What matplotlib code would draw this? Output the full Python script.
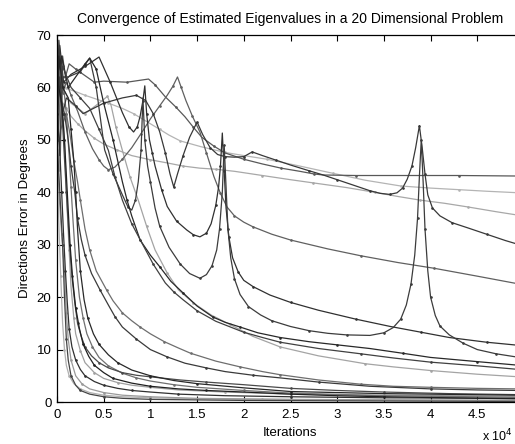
import matplotlib
matplotlib.use("Agg")
import matplotlib.pyplot as plt

plt.rcParams["font.family"] = ["Liberation Sans", "DejaVu Sans"]

# iterations are in units of 1e4 (axis shows "x 10^4")
xticks = [0, 0.5, 1, 1.5, 2, 2.5, 3, 3.5, 4, 4.5]
xtick_labels = ["0", "0.5", "1", "1.5", "2", "2.5", "3", "3.5", "4", "4.5"]
yticks = [0, 10, 20, 30, 40, 50, 60, 70]

# upper curves
h1_x = [0, 0.02, 0.04, 0.06, 0.09, 0.13, 0.2, 0.28, 0.4, 0.5, 0.75, 0.98, 1.05, 1.16, 1.27, 1.37, 1.46, 1.55, 1.68, 1.8,
        2.0, 2.2, 2.4, 2.6, 2.75, 2.85, 3.2, 3.7, 4.3, 4.95]
h1_y = [58, 67, 60, 66, 62, 64.5, 63.5, 62.5, 61, 61.2, 61, 61.6, 60.5, 58.2, 56.3, 54.4, 52.4, 50.5, 48.8, 47.5,
        46.3, 45.4, 44.6, 44, 43.5, 43.3, 43.2, 43.2, 43.2, 43.1]

h2_x = [0, 0.03, 0.06, 0.1, 0.2, 0.28, 0.5, 0.7, 0.85, 0.95, 1.03, 1.1, 1.16, 1.21, 1.25, 1.29, 1.35, 1.42, 1.5, 1.56,
        1.64, 1.72, 1.8, 1.9, 2.0, 2.05, 2.09, 2.2, 2.35, 2.5, 2.7, 2.85, 3.0, 3.2, 3.35, 3.46, 3.56, 3.64, 3.7, 3.75,
        3.8, 3.84, 3.88, 3.91, 3.94, 3.97, 4.02, 4.1, 4.23, 4.4, 4.6, 4.8, 4.95]
h2_y = [52, 62, 55, 58, 56.5, 55, 57, 58, 58.5, 57.5, 55, 51.5, 47.5, 43.5, 41, 43.5, 47, 50.5, 53.4, 51,
        48.5, 47.2, 46.8, 46.7, 46.8, 47.3, 47.7, 47, 46.1, 45.2, 44.1, 43.3, 42.4, 41.2, 40.3, 39.8, 39.6, 39.9, 40.8, 42.5,
        45, 48.5, 52.7, 48.5, 43.5, 39.5, 37, 35.5, 34.2, 33.2, 32, 30.8, 30]

h3_x = [0, 0.03, 0.06, 0.1, 0.15, 0.22, 0.3, 0.38, 0.45, 0.5, 0.55, 0.62, 0.7, 0.8, 0.9, 1.0, 1.1, 1.18, 1.24, 1.29,
        1.33, 1.38, 1.45, 1.53, 1.6, 1.68, 1.75, 1.82, 1.9, 2.0, 2.1, 2.3, 2.5, 2.9, 3.25, 3.65, 4.04, 4.5, 4.95]
h3_y = [57, 65, 59, 61, 58.5, 55.5, 51.5, 48.3, 46.2, 45, 44.3, 44.8, 46.3, 48.5, 51.2, 54, 56.5, 58.5, 60.2, 62,
        60, 57.5, 54.5, 51.5, 47.5, 43, 39.8, 37.2, 35.5, 34.3, 33.4, 32, 30.9, 29.2, 27.9, 26.6, 25.5, 24, 22.5]

s1_x = [0, 0.03, 0.07, 0.15, 0.3, 0.45, 0.57, 0.7, 0.77, 0.82, 0.86, 0.89, 0.92, 0.94, 0.96, 0.99, 1.02, 1.05, 1.12, 1.18,
        1.28, 1.39, 1.46, 1.53, 1.6, 1.65, 1.7, 1.73, 1.75, 1.77, 1.79, 1.81, 1.84, 1.88, 1.94, 2.0, 2.1, 2.28, 2.5, 2.8,
        3.2, 3.57, 3.9, 4.2, 4.6, 4.95]
s1_y = [60, 68, 61, 62.5, 64, 65.8, 61, 55.2, 52.5, 51.5, 52.5, 54.5, 57.5, 60.3, 55, 50, 47.5, 45, 40.5, 37.3,
        34.5, 32.8, 31.9, 31.5, 32.2, 34, 37.5, 41, 45, 51.3, 44, 37, 31.5, 27.5, 24.8, 23.2, 22, 20.4, 19, 17.5,
        15.8, 14.4, 13.3, 12.3, 11.4, 10.8]

s2_x = [0, 0.02, 0.05, 0.12, 0.25, 0.35, 0.42, 0.51, 0.6, 0.7, 0.76, 0.8, 0.84, 0.87, 0.9, 0.92, 0.94, 0.97, 1.0, 1.05,
        1.1, 1.2, 1.32, 1.42, 1.53, 1.6, 1.66, 1.71, 1.74, 1.77, 1.79, 1.81, 1.83, 1.86, 1.9, 1.96, 2.05, 2.18, 2.3, 2.5,
        2.7, 2.9, 3.1, 3.35, 3.5, 3.6, 3.68, 3.74, 3.79, 3.83, 3.86, 3.88, 3.9, 3.92, 3.94, 3.97, 4.0, 4.05, 4.1, 4.2,
        4.35, 4.5, 4.7, 4.95]
s2_y = [55, 69, 62, 62, 63, 65.6, 60, 48.1, 43.5, 39.5, 37.2, 36.6, 38.5, 42, 48, 58, 50, 45, 42, 37,
        33.5, 29.5, 26.3, 24.5, 23.6, 24.3, 26, 29, 33, 40, 49, 41, 33, 27.5, 23.5, 20.5, 18.2, 16.6, 15.5, 14.4,
        13.6, 13.1, 12.8, 12.7, 13.2, 14.2, 15.8, 18.5, 22.5, 28, 35, 43, 50, 42, 33, 25, 20, 16.5, 14.5, 12.8,
        11.2, 10, 9.2, 8.5]

l1_x = [0, 0.03, 0.1, 0.2, 0.3, 0.45, 0.55, 0.7, 0.82, 0.95, 1.1, 1.2, 1.32, 1.54, 1.8, 2.0, 2.25, 2.6, 2.96, 3.3, 3.68,
        4.0, 4.3, 4.6, 4.95]
l1_y = [56, 62, 59.8, 59.2, 58.5, 57.6, 57, 56, 55, 53.6, 52, 50.9, 49.8, 48.7, 47.6, 47, 46.3, 45, 43.6, 42.3, 41.2,
        40.8, 40.5, 40.2, 39.9]

l2_x = [0, 0.04, 0.1, 0.15, 0.22, 0.29, 0.4, 0.5, 0.64, 0.8, 1.0, 1.18, 1.35, 1.53, 1.7, 1.9, 2.2, 2.5, 2.74, 3.1, 3.4,
        3.65, 3.89, 4.15, 4.4, 4.7, 4.95]
l2_y = [48, 57.6, 56, 54.5, 53.1, 51.9, 50.3, 49.2, 48.1, 47, 46.2, 45.6, 45, 44.6, 44.4, 44, 43.2, 42.4, 41.8, 40.9, 40,
        39.2, 38.5, 37.9, 37.2, 36.3, 35.6]

# middle decaying curves
d1_x = [0, 0.05, 0.12, 0.2, 0.3, 0.35, 0.42, 0.5, 0.6, 0.7, 0.75, 0.8, 0.89, 1.0, 1.1, 1.22, 1.35, 1.5, 1.67, 1.8, 1.96,
        2.15, 2.39, 2.7, 3.0, 3.35, 3.7, 4.0, 4.5, 4.95]
d1_y = [62, 66, 60, 62, 64.5, 65.6, 63.5, 57, 50, 42, 38.5, 35.5, 30.9, 28, 25.8, 23, 20.8, 18.3, 16.2, 15.2, 14.3,
        13.2, 12.3, 11.5, 10.9, 10.2, 9.3, 8.5, 7.7, 7.0]

d2_x = [0, 0.03, 0.06, 0.15, 0.25, 0.35, 0.45, 0.55, 0.62, 0.7, 0.8, 0.91, 1.03, 1.16, 1.25, 1.35, 1.5, 1.7, 2.0, 2.2,
        2.39, 2.8, 3.25, 3.6, 4.0, 4.5, 4.95]
d2_y = [60, 47, 64, 60, 58, 56, 52, 48, 43, 38.5, 34, 30.3, 26.3, 22.7, 21, 19.5, 17.4, 15.4, 13.3, 12.3,
        11.4, 10.2, 9.2, 8.4, 7.6, 6.9, 6.2]

l3_x = [0, 0.03, 0.06, 0.15, 0.3, 0.45, 0.54, 0.58, 0.63, 0.7, 0.78, 0.87, 0.96, 1.05, 1.18, 1.3, 1.46, 1.65, 1.85, 2.1,
        2.39, 2.8, 3.3, 3.6, 4.0, 4.5, 4.95]
l3_y = [50, 44, 60, 57, 55, 57, 58.3, 56.5, 52.5, 48, 43, 38.5, 33.5, 29, 24.6, 21.4, 18.9, 16.6, 14.8, 12.5,
        10.5, 8.8, 7.3, 6.7, 6.0, 5.3, 4.8]

f1_x = [0, 0.04, 0.1, 0.14, 0.18, 0.22, 0.25, 0.3, 0.35, 0.42, 0.53, 0.6, 0.7, 0.8, 0.89, 1.0, 1.15, 1.3, 1.43, 1.7,
        1.96, 2.2, 2.39, 2.8, 3.25, 3.6, 4.0, 4.5, 4.95]
f1_y = [64, 52, 55, 51, 46, 42, 38.5, 33, 29, 25, 21.4, 19.3, 17, 15.5, 14.3, 13, 11.5, 10.3, 9.3, 7.8,
        6.7, 5.8, 5.2, 4.2, 3.4, 3.0, 2.8, 2.6, 2.5]

f2_x = [0, 0.04, 0.08, 0.12, 0.15, 0.19, 0.22, 0.26, 0.3, 0.37, 0.46, 0.55, 0.62, 0.7, 0.85, 1.0, 1.18, 1.37, 1.6, 1.8,
        2.1, 2.39, 2.8, 3.35, 4.0, 4.5, 4.95]
f2_y = [66, 58, 55, 50, 45, 40, 35, 31, 28, 24.5, 21.4, 18.5, 16.3, 14.3, 12, 10, 8.6, 7.4, 6.5, 5.8,
        5.1, 4.6, 3.8, 3.0, 2.5, 2.3, 2.2]

f3_x = [0, 0.05, 0.1, 0.13, 0.16, 0.19, 0.22, 0.26, 0.3, 0.37, 0.45, 0.55, 0.7, 0.85, 1.0, 1.32, 1.6, 2.0, 2.5, 3.0,
        3.5, 4.2, 4.95]
f3_y = [62, 56, 40, 31, 24, 19, 15, 12.5, 10.5, 8.8, 7.5, 6.5, 5.6, 5.1, 4.8, 4.2, 3.8, 3.3, 2.6, 2.2,
        1.9, 1.6, 1.4]

# fast decaying curves near the bottom
v1_x = [0, 0.02, 0.04, 0.06, 0.08, 0.1, 0.13, 0.18, 0.25, 0.35, 0.5, 0.7, 1.0, 1.5, 2.2, 3.0, 4.95]
v1_y = [45, 34, 24, 15, 10, 7, 5, 3.5, 2.5, 1.8, 1.3, 1.0, 0.8, 0.6, 0.5, 0.4, 0.3]

v2_x = [0, 0.03, 0.05, 0.07, 0.09, 0.11, 0.13, 0.16, 0.2, 0.25, 0.3, 0.4, 0.5, 0.65, 0.8, 1.0, 1.3, 1.8, 2.5, 3.5, 4.95]
v2_y = [55, 48, 40, 32, 25, 19, 14, 10.5, 8, 6.2, 5, 3.9, 3.2, 2.6, 2.2, 1.9, 1.5, 1.2, 1.0, 0.8, 0.7]

v3_x = [0, 0.05, 0.08, 0.1, 0.13, 0.15, 0.18, 0.2, 0.25, 0.3, 0.4, 0.5, 0.65, 0.8, 1.0, 1.3, 1.8, 2.5, 3.5, 4.95]
v3_y = [52, 60, 50, 40, 29, 22, 16, 13, 9.8, 7.5, 5.6, 4.5, 3.7, 3.2, 2.8, 2.3, 1.9, 1.5, 1.3, 1.1]

v4_x = [0, 0.05, 0.08, 0.11, 0.14, 0.17, 0.2, 0.24, 0.28, 0.34, 0.4, 0.5, 0.6, 0.8, 1.0, 1.3, 1.6, 2.0, 2.5, 3.0, 3.5,
        4.2, 4.95]
v4_y = [62, 57, 50, 40, 30, 23, 18, 14, 11, 8.7, 7, 5.6, 4.5, 3.6, 3, 2.5, 2.2, 1.9, 1.5, 1.2, 1.0, 0.8, 0.6]

v5_x = [0, 0.06, 0.1, 0.13, 0.15, 0.17, 0.2, 0.24, 0.28, 0.32, 0.38, 0.45, 0.55, 0.7, 0.85, 1.0, 1.25, 1.5, 2.0, 2.5,
        3.5, 4.95]
v5_y = [60, 62, 55, 47, 41, 35, 27, 20, 16, 13, 10.5, 8.5, 6.9, 5.5, 4.6, 4, 3.3, 2.8, 2.2, 1.7, 1.2, 0.9]

v6_x = [0, 0.02, 0.06, 0.12, 0.15, 0.18, 0.2, 0.22, 0.25, 0.29, 0.33, 0.39, 0.45, 0.55, 0.65, 0.8, 1.0, 1.25, 1.5, 2.0,
        2.5, 3.5, 4.95]
v6_y = [50, 66, 60, 58, 52, 46, 40, 33, 25, 19.5, 16, 13, 11, 9, 7.5, 6.1, 5, 4.1, 3.5, 2.7, 2.0, 1.6, 1.3]

v7_x = [0, 0.02, 0.05, 0.08, 0.1, 0.12, 0.15, 0.2, 0.27, 0.35, 0.5, 0.7, 1.0, 1.5, 2.5, 4.95]
v7_y = [55, 40, 32, 25, 17, 12, 8, 5, 3.4, 2.5, 1.8, 1.3, 1.0, 0.7, 0.5, 0.3]

v8_x = [0, 0.03, 0.06, 0.08, 0.1, 0.12, 0.15, 0.2, 0.25, 0.35, 0.5, 0.7, 1.0, 2.0, 4.95]
v8_y = [50, 40, 30, 20, 12, 8, 5, 3.2, 2.2, 1.5, 1.0, 0.7, 0.5, 0.3, 0.1]

curves = [
    (l1_x, l1_y, "#b4b4b4"),
    (l2_x, l2_y, "#a8a8a8"),
    (l3_x, l3_y, "#a4a4a4"),
    (v1_x, v1_y, "#b0b0b0"),
    (v3_x, v3_y, "#a0a0a0"),
    (v7_x, v7_y, "#9a9a9a"),
    (h1_x, h1_y, "#585858"),
    (h3_x, h3_y, "#606060"),
    (f1_x, f1_y, "#6e6e6e"),
    (v5_x, v5_y, "#707070"),
    (h2_x, h2_y, "#383838"),
    (s1_x, s1_y, "#303030"),
    (s2_x, s2_y, "#3c3c3c"),
    (d1_x, d1_y, "#282828"),
    (d2_x, d2_y, "#404040"),
    (f2_x, f2_y, "#3a3a3a"),
    (f3_x, f3_y, "#4a4a4a"),
    (v2_x, v2_y, "#303030"),
    (v4_x, v4_y, "#202020"),
    (v6_x, v6_y, "#282828"),
    (v8_x, v8_y, "#454545"),
]

fig = plt.figure(figsize=(5.15, 4.44), dpi=100)
ax = fig.add_axes([57 / 515, 42 / 444, 467 / 515, 367 / 444])

for cx, cy, col in curves:
    ax.plot(cx, cy, color=col, lw=0.9, marker=".", ms=1.8, markevery=2)

ax.set_xlim(0, 5)
ax.set_ylim(0, 70)
ax.set_xticks(xticks)
ax.set_xticklabels(xtick_labels)
ax.set_yticks(yticks)
ax.tick_params(direction="in", top=True, right=True, length=4, labelsize=9.5)
ax.tick_params(axis="x", pad=5)
ax.tick_params(axis="y", pad=4)
for sp in ax.spines.values():
    sp.set_linewidth(0.9)

ax.set_title("Convergence of Estimated Eigenvalues in a 20 Dimensional Problem", fontsize=10, pad=9)
ax.set_xlabel("Iterations", fontsize=9.5, labelpad=4)
ax.set_ylabel("Directions Error in Degrees", fontsize=9.5, labelpad=4)
fig.text(0.995, 0.0, r"x 10$^4$", fontsize=9, ha="right", va="bottom")

plt.savefig("out.png", dpi=100)
plt.close()
